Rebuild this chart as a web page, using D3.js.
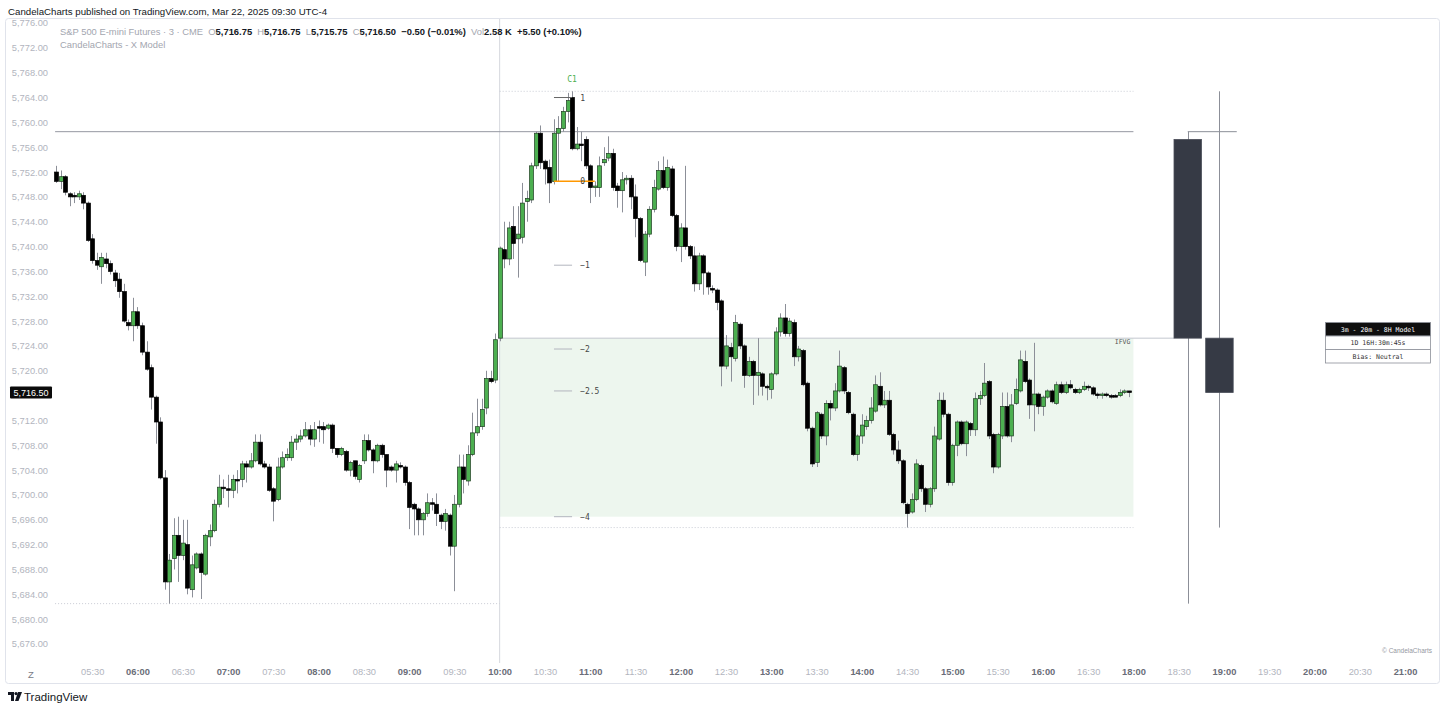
<!DOCTYPE html>
<html>
<head>
<meta charset="utf-8">
<script src="https://cdn.jsdelivr.net/npm/d3@7"></script>
<style>
  body { margin: 0; background: #fff; }
  text { font-family: "Liberation Sans", Arial, sans-serif; }
  .mono { font-family: "DejaVu Sans Mono", "Liberation Mono", monospace; }
  .legend { white-space: pre; }
</style>
</head>
<body>
<svg id="chart" width="1445" height="710"></svg>
<script>
// ES1! 3 minute candles, 05:06 -> 16:57
var opens = [
  5752, 5750.5, 5751.25, 5748.5, 5748.25, 5748, 5748.25, 5747, 5741.25, 5737.75,
  5736.75, 5738, 5737.25, 5735.75, 5734.75, 5732.75, 5727.75, 5727.25, 5729.5, 5727.25,
  5723, 5720.5, 5715.75, 5711.75, 5702.75, 5686, 5689.75, 5693.5, 5690.25, 5692,
  5684.75, 5688.25, 5690.5, 5687.25, 5693.25, 5694.25, 5698.5, 5701.25, 5701, 5700.75,
  5702.5, 5702.5, 5705, 5704.5, 5705.5, 5708.5, 5705, 5704.5, 5701, 5699.25,
  5704.5, 5706, 5706, 5708.5, 5709, 5709.5, 5710.5, 5709, 5711, 5711,
  5710.75, 5711.25, 5707.5, 5706.5, 5707, 5704, 5705.5, 5702.5, 5705.5, 5708.75,
  5707.25, 5705.5, 5708, 5706.5, 5704.5, 5704, 5704.75, 5704.5, 5702, 5698.5,
  5697.75, 5696, 5697, 5698.75, 5698.5, 5696.75, 5695.75, 5696.75, 5691.75, 5698.5,
  5704.5, 5702.25, 5706.5, 5710, 5711, 5714, 5718.75, 5718.5, 5725.25, 5739.5,
  5738, 5743.25, 5741.25, 5741.5, 5747.25, 5747.5, 5753, 5758.25, 5753.75, 5752.75,
  5750.5, 5758.25, 5759, 5761.75, 5764, 5755.75, 5756.5, 5757.25, 5753, 5749.5,
  5749.5, 5753.5, 5754.25, 5755, 5749.75, 5749, 5750.75, 5751, 5748, 5744.5,
  5737.5, 5742, 5746, 5749.25, 5752.25, 5749.5, 5752.5, 5745, 5740, 5743,
  5740, 5738.5, 5734, 5738.5, 5735.75, 5733.25, 5733, 5731.25, 5720.75, 5723.75,
  5722, 5727.5, 5724, 5719.25, 5721.5, 5719.25, 5719.5, 5717.5, 5717, 5719.5,
  5726.25, 5728.5, 5726, 5727.75, 5722.25, 5723.25, 5718, 5710.75, 5705.25, 5713,
  5709.5, 5714.75, 5714, 5716.75, 5720.5, 5716.5, 5713, 5706.5, 5709.5, 5711,
  5712, 5713.5, 5717.5, 5714.5, 5715.25, 5709.75, 5707.25, 5705.5, 5698.5, 5697.25,
  5699.25, 5704.75, 5701, 5698.5, 5701, 5709, 5715.25, 5713, 5702, 5708,
  5711.75, 5708.25, 5711.5, 5710.5, 5715.5, 5716, 5718.25, 5709.75, 5704.5, 5709.5,
  5714.25, 5709.5, 5714.75, 5716.75, 5721.5, 5718.5, 5714.5, 5716.25, 5714.25, 5715.75,
  5716.75, 5714.75, 5717.75, 5716.5, 5717.75, 5717, 5716.5, 5717, 5717.5, 5717.25,
  5716.25, 5716, 5716.25, 5716, 5716, 5716, 5716.5, 5716.75
];
var highs = [
  5753, 5752.25, 5751.5, 5748.75, 5748.75, 5749, 5748.75, 5747.25, 5742, 5739,
  5739, 5739, 5737.75, 5736.25, 5735.75, 5734, 5728.25, 5731.75, 5730.25, 5727.75,
  5724.75, 5721, 5716, 5712.5, 5704, 5690.5, 5696.25, 5696.5, 5696, 5696,
  5690.25, 5690.75, 5690.75, 5693.75, 5695.25, 5699.25, 5703.25, 5702.5, 5703.25, 5703.25,
  5704, 5705.5, 5705.5, 5706.75, 5709.75, 5709.75, 5705.5, 5705, 5701.25, 5706,
  5707, 5707.5, 5709.5, 5709.75, 5710.5, 5711.75, 5711.25, 5711.75, 5712, 5711.75,
  5711.5, 5711.5, 5707.5, 5707.75, 5707.25, 5705.5, 5705.5, 5705, 5709.75, 5709.75,
  5707.5, 5708.25, 5708.25, 5706.5, 5704.75, 5705.5, 5705.25, 5704.75, 5702.25, 5698.75,
  5698, 5697.25, 5700.25, 5699.5, 5700.25, 5697, 5697.75, 5697, 5700, 5706.5,
  5706.5, 5708, 5713.25, 5715.5, 5715.5, 5720, 5720, 5726, 5740, 5744,
  5744, 5746.5, 5746.5, 5750.25, 5749, 5753.5, 5758.5, 5759.5, 5754, 5754,
  5760.5, 5761, 5762.5, 5764.75, 5765, 5759.25, 5758.5, 5757.75, 5753.25, 5750.5,
  5754.5, 5756, 5757.75, 5755.75, 5750.25, 5752, 5751.5, 5751.5, 5750, 5744.75,
  5742.5, 5746.5, 5750.75, 5753.75, 5754.5, 5754, 5753, 5745.25, 5743.75, 5753,
  5740.25, 5740, 5739, 5738.75, 5736, 5733.75, 5733.25, 5731.5, 5725.75, 5724.5,
  5729, 5727.75, 5724.25, 5722.25, 5721.75, 5725.25, 5719.75, 5717.75, 5719.75, 5727,
  5729.25, 5730.75, 5728.5, 5728.25, 5724, 5723.5, 5718.25, 5711, 5713.5, 5713.25,
  5715.25, 5715.25, 5718, 5723.25, 5720.75, 5716.75, 5713.25, 5709.75, 5713, 5712.75,
  5715.75, 5719.25, 5719.75, 5716.75, 5716.75, 5710, 5708.75, 5705.75, 5698.75, 5700.25,
  5705.75, 5705, 5701.25, 5701.25, 5711, 5716.5, 5716.5, 5713.25, 5708.25, 5712,
  5712, 5712, 5711.75, 5716.5, 5716.75, 5721.25, 5718.5, 5710, 5710, 5716.5,
  5716.5, 5716.25, 5718.75, 5723.25, 5723.25, 5718.75, 5724.5, 5716.5, 5716, 5717,
  5717, 5718.25, 5718.25, 5718.25, 5718.5, 5717.25, 5717.25, 5718.25, 5717.75, 5717.5,
  5716.5, 5716.5, 5716.5, 5716.25, 5716.25, 5717, 5717, 5716.75
];
var lows = [
  5750.25, 5749.25, 5748.25, 5746.5, 5747, 5747.5, 5746, 5740.75, 5737.25, 5736.25,
  5734, 5736.5, 5735.5, 5733.5, 5731.75, 5727.75, 5726.5, 5724.75, 5726.75, 5722.5,
  5720, 5713.75, 5708.25, 5702.5, 5684.75, 5682.5, 5688, 5686, 5689.5, 5684,
  5683.5, 5688, 5683.25, 5687, 5691.75, 5694, 5698, 5699.5, 5698, 5699.5,
  5700.25, 5701.25, 5702, 5704.25, 5705.25, 5704.75, 5704.25, 5700.5, 5695.75, 5699,
  5704.25, 5705.5, 5705.5, 5707.25, 5708.5, 5709.25, 5708, 5707.75, 5708.5, 5708.25,
  5710.5, 5706.75, 5706, 5706.25, 5703.75, 5703, 5702.5, 5702, 5705, 5707,
  5703.5, 5705.25, 5706, 5701.25, 5703.75, 5702, 5704.25, 5701.5, 5694.5, 5693.5,
  5693.5, 5693.5, 5696.5, 5697.5, 5695, 5694.5, 5694.25, 5690.25, 5684.5, 5698,
  5700.25, 5701.5, 5706.25, 5709.5, 5710.5, 5713, 5718, 5718, 5724.75, 5736.5,
  5737, 5738, 5735, 5740.5, 5744, 5747, 5752.5, 5752.5, 5750, 5747,
  5750, 5750.5, 5758.5, 5760, 5755.5, 5755.5, 5753.75, 5752.5, 5747, 5748,
  5748, 5753, 5753.75, 5749, 5746.25, 5745.5, 5750, 5746, 5741.5, 5737.5,
  5735.25, 5741.5, 5745.5, 5749, 5749.25, 5749, 5744.75, 5739.25, 5737.5, 5739.5,
  5738, 5732.75, 5733, 5732.25, 5732.25, 5732.5, 5729.75, 5717.5, 5720.25, 5718.25,
  5721.5, 5723.5, 5717.25, 5719, 5714.5, 5716, 5716, 5715.25, 5715.5, 5719.25,
  5725.5, 5725.5, 5725.5, 5720.75, 5721.5, 5717.5, 5710.25, 5704.5, 5704.5, 5709,
  5708, 5712, 5713.5, 5716.5, 5716.25, 5713, 5706.25, 5705.5, 5708.25, 5710.5,
  5711.5, 5713.25, 5714.25, 5714, 5709.5, 5706.5, 5705, 5698.5, 5694.75, 5697,
  5699, 5700.5, 5697.25, 5698, 5700.5, 5708.75, 5712.5, 5701.5, 5701.5, 5706.25,
  5708, 5706.25, 5709.5, 5709.5, 5714.5, 5715.75, 5709, 5703.5, 5704.25, 5709,
  5709.25, 5708.5, 5714.5, 5716.5, 5718, 5712.25, 5710.25, 5713, 5712.75, 5715.5,
  5714.75, 5714.5, 5716.25, 5716.25, 5717, 5716.25, 5716.25, 5716.75, 5716.75, 5716,
  5715.5, 5715.5, 5715.75, 5715.5, 5715.75, 5715.75, 5716.25, 5715.75
];
var closes = [
  5750.5, 5751.25, 5748.75, 5748, 5748, 5748.5, 5747, 5741, 5737.75, 5737,
  5738.25, 5737.25, 5736, 5734.5, 5732.75, 5728, 5727.25, 5729.5, 5727.25, 5723,
  5720.25, 5715.75, 5711.75, 5702.75, 5686, 5689.5, 5693.5, 5690.25, 5692.25, 5685,
  5688.75, 5690.5, 5687.5, 5693.5, 5694.25, 5698.5, 5701.25, 5701, 5700.75, 5702.5,
  5702.25, 5705, 5704.5, 5705.5, 5708.5, 5705, 5704.5, 5700.75, 5699, 5704.5,
  5706, 5706.5, 5708.5, 5709, 5709.5, 5710.5, 5709, 5710.5, 5710.75, 5710.5,
  5711.25, 5707.5, 5706.5, 5707.5, 5704, 5705.25, 5703, 5704.75, 5708.75, 5707.25,
  5705.5, 5708, 5706.5, 5704, 5704, 5705, 5704.5, 5702, 5698, 5697.75,
  5696, 5697, 5698.75, 5698.5, 5697, 5695.75, 5697, 5691.75, 5698.5, 5704.5,
  5702.5, 5706.5, 5710, 5711, 5713.75, 5718.75, 5718.25, 5725, 5739.75, 5738,
  5743, 5740.5, 5742, 5747, 5747.75, 5753, 5758.25, 5753.5, 5752.5, 5750.25,
  5758.25, 5759, 5761.75, 5763.5, 5755.75, 5756.5, 5756.25, 5753, 5749.5, 5749.75,
  5753, 5754, 5755, 5749.5, 5749, 5750.75, 5751, 5748, 5744.5, 5737.75,
  5742, 5746, 5749.5, 5752.25, 5749.5, 5752.75, 5745, 5740, 5743, 5740,
  5738.5, 5734, 5738.5, 5735.75, 5733.5, 5733, 5731, 5720.75, 5724, 5722.25,
  5727.75, 5724, 5719.25, 5721.5, 5719.25, 5719.75, 5717.5, 5717.25, 5719.5, 5726.25,
  5728.5, 5726, 5728, 5722.25, 5723.5, 5717.75, 5710.75, 5705, 5713.25, 5709.5,
  5714.75, 5714, 5716.75, 5720.75, 5716.75, 5713.25, 5706.5, 5709.5, 5711.25, 5712,
  5714, 5717.75, 5714.5, 5715.25, 5709.75, 5707.25, 5705.5, 5698.75, 5697, 5699.25,
  5705, 5701, 5698.5, 5701, 5709.5, 5715.25, 5713, 5702, 5708, 5711.75,
  5708.25, 5711.75, 5710.5, 5715.5, 5716, 5718, 5709.5, 5704.5, 5709.75, 5714.25,
  5709.5, 5714.5, 5717, 5721.75, 5718.25, 5714.5, 5716.25, 5714.25, 5715.75, 5716.75,
  5715, 5717.75, 5716.5, 5717.75, 5717.25, 5716.5, 5717, 5717.5, 5717.25, 5716.25,
  5716, 5716.25, 5716, 5715.75, 5715.75, 5716.5, 5716.75, 5716.5
];

// 8H candles drawn to the right of the session
var htfIdx = [250, 257];
var htfOpen = [5757.25, 5725.25];
var htfHigh = [5758.5, 5765];
var htfLow = [5682.5, 5694.75];
var htfClose = [5725.25, 5716.5];

// fib projection off the C1 swing
var fibLabels = ["1", "0", "\u22121", "\u22122", "\u22122.5", "\u22124"];
var fibPrices = [5764, 5750.5, 5737, 5723.5, 5716.75, 5696.5];

var priceTicks = d3.range(5676, 5777, 4);
var timeLabels = ["05:30", "06:00", "06:30", "07:00", "07:30", "08:00", "08:30", "09:00", "09:30",
  "10:00", "10:30", "11:00", "11:30", "12:00", "12:30", "13:00", "13:30", "14:00", "14:30",
  "15:00", "15:30", "16:00", "16:30", "18:00", "18:30", "19:00", "19:30", "20:00", "20:30", "21:00"];

var tableRows = ["3m - 20m - 8H Model", "1D 16H:30m:45s", "Bias: Neutral"];

var svg = d3.select("#chart");

var x = d3.scaleLinear().domain([0, 237]).range([56, 56 + 237 * 4.527]);
var y = d3.scaleLinear().domain([5676, 5776]).range([644, 23]);

// bar index of a clock label (3m bars from 05:06, the 17:00-18:00 break is skipped)
function timeToIdx(t) {
  var p = t.split(":"), m = +p[0] * 60 + +p[1];
  var idx = (m - (5 * 60 + 6)) / 3;
  if (+p[0] >= 18) idx -= 20;
  return idx;
}

// frame
svg.append("rect")
  .attr("x", 5.5).attr("y", 18.5).attr("width", 1434).attr("height", 665)
  .attr("rx", 3)
  .attr("fill", "none").attr("stroke", "#e0e3eb");

svg.append("text")
  .attr("x", 8).attr("y", 15)
  .attr("font-size", 9.7).attr("fill", "#131722")
  .text("CandelaCharts published on TradingView.com, Mar 22, 2025 09:30 UTC-4");

// IFVG zone
var zoneTop = 5725.25, zoneBot = 5696.5;
svg.append("rect")
  .attr("x", x(98)).attr("y", y(zoneTop))
  .attr("width", x(238) - x(98)).attr("height", y(zoneBot) - y(zoneTop))
  .attr("fill", "#edf6ee");
svg.append("line")
  .attr("x1", x(98)).attr("x2", x(247)).attr("y1", y(zoneTop)).attr("y2", y(zoneTop))
  .attr("stroke", "#c3c7cf").attr("stroke-width", 1);
svg.append("text")
  .attr("class", "mono")
  .attr("x", x(238) - 3).attr("y", y(zoneTop) + 6)
  .attr("text-anchor", "end").attr("font-size", 6.5).attr("fill", "#555")
  .text("IFVG");

// session open line
svg.append("line")
  .attr("x1", x(98)).attr("x2", x(98)).attr("y1", 19).attr("y2", 663)
  .attr("stroke", "#d6d8de");

// previous high
svg.append("line")
  .attr("x1", x(-0.2)).attr("x2", x(238)).attr("y1", y(5758.5)).attr("y2", y(5758.5))
  .attr("stroke", "#9598a1");

// dotted levels
var dotted = [[5765, 98, 238], [5694.75, 98, 238], [5682.5, -0.2, 98]];
svg.selectAll(".dot-level")
  .data(dotted)
  .enter().append("line")
  .attr("class", "dot-level")
  .attr("x1", function (d) { return x(d[1]); })
  .attr("x2", function (d) { return x(d[2]); })
  .attr("y1", function (d) { return y(d[0]); })
  .attr("y2", function (d) { return y(d[0]); })
  .attr("stroke", "#c9ccd4").attr("stroke-dasharray", "1,2");

// candles
var bars = opens.map(function (o, i) {
  return {i: i, o: o, h: highs[i], l: lows[i], c: closes[i]};
});

svg.append("g").selectAll("line")
  .data(bars)
  .enter().append("line")
  .attr("x1", function (d) { return Math.round(x(d.i)) + 0.5; })
  .attr("x2", function (d) { return Math.round(x(d.i)) + 0.5; })
  .attr("y1", function (d) { return y(d.h); })
  .attr("y2", function (d) { return y(d.l); })
  .attr("stroke", "#8c8f98").attr("stroke-width", 1);

svg.append("g").selectAll("rect")
  .data(bars)
  .enter().append("rect")
  .attr("x", function (d) { return Math.round(x(d.i)) - 1.5; })
  .attr("width", 4)
  .attr("y", function (d) { return y(Math.max(d.o, d.c)); })
  .attr("height", function (d) { return Math.max(1.2, Math.abs(y(d.o) - y(d.c))); })
  .attr("fill", function (d) { return d.c >= d.o ? "#4caf50" : "#000"; })
  .attr("stroke", function (d) { return d.c >= d.o ? "#1f3d21" : "#000"; })
  .attr("stroke-width", 0.7);

// fib levels
svg.selectAll(".fib")
  .data(fibPrices)
  .enter().append("line")
  .attr("class", "fib")
  .attr("x1", x(110))
  .attr("x2", function (d, i) { return i == 1 ? x(119) : x(114); })
  .attr("y1", function (d) { return y(d); })
  .attr("y2", function (d) { return y(d); })
  .attr("stroke", function (d, i) { return i == 1 ? "#ff9800" : (i == 0 ? "#666" : "#b2b5be"); })
  .attr("stroke-width", function (d, i) { return i == 1 ? 1.5 : 1; });

svg.selectAll(".fib-label")
  .data(fibPrices)
  .enter().append("text")
  .attr("class", "mono fib-label")
  .attr("x", x(116) - 1)
  .attr("y", function (d) { return y(d) + 3; })
  .attr("font-size", 8).attr("fill", "#444")
  .text(function (d, i) { return fibLabels[i]; });

svg.append("text")
  .attr("class", "mono")
  .attr("x", x(114)).attr("y", 82)
  .attr("text-anchor", "middle").attr("font-size", 8).attr("fill", "#4caf50")
  .text("C1");

// 8H candles
svg.append("line")
  .attr("x1", x(htfIdx[0])).attr("x2", x(htfIdx[0]) + 49)
  .attr("y1", y(htfHigh[0])).attr("y2", y(htfHigh[0]))
  .attr("stroke", "#8c8f98");
svg.selectAll(".htf-wick")
  .data(htfIdx)
  .enter().append("line")
  .attr("class", "htf-wick")
  .attr("x1", function (d) { return Math.round(x(d)) + 0.5; })
  .attr("x2", function (d) { return Math.round(x(d)) + 0.5; })
  .attr("y1", function (d, i) { return y(htfHigh[i]); })
  .attr("y2", function (d, i) { return y(htfLow[i]); })
  .attr("stroke", "#8c8f98");
svg.selectAll(".htf-body")
  .data(htfIdx)
  .enter().append("rect")
  .attr("class", "htf-body")
  .attr("x", function (d) { return x(d) - 13.75; })
  .attr("width", 27.5)
  .attr("y", function (d, i) { return y(Math.max(htfOpen[i], htfClose[i])); })
  .attr("height", function (d, i) { return Math.abs(y(htfOpen[i]) - y(htfClose[i])); })
  .attr("fill", "#363a45").attr("stroke", "#4a4e59").attr("stroke-width", 0.8);

// model table
var tb = svg.append("g").attr("transform", "translate(1325.5,322.5)");
tb.selectAll("rect")
  .data(tableRows)
  .enter().append("rect")
  .attr("x", 0).attr("y", function (d, i) { return i * 13.5; })
  .attr("width", 105).attr("height", 13.5)
  .attr("fill", function (d, i) { return i == 0 ? "#0f0f0f" : "#fff"; })
  .attr("stroke", "#8c8f98").attr("stroke-width", 0.8);
tb.selectAll("text")
  .data(tableRows)
  .enter().append("text")
  .attr("class", "mono")
  .attr("x", 52.5).attr("y", function (d, i) { return i * 13.5 + 9.3; })
  .attr("text-anchor", "middle").attr("font-size", 6.5)
  .attr("fill", function (d, i) { return i == 0 ? "#fff" : "#333"; })
  .text(function (d) { return d; });

// last price, its tag hides the grid label underneath
var last = closes[closes.length - 1];

// price axis
var yAxis = d3.axisLeft(y)
  .tickValues(priceTicks.filter(function (d) { return Math.abs(y(d) - y(last)) > 8; }))
  .tickSize(0).tickPadding(0)
  .tickFormat(d3.format(",.2f"));
var yg = svg.append("g").attr("transform", "translate(48,0)").call(yAxis);
yg.select(".domain").remove();
yg.selectAll("text").attr("font-size", 9.3).attr("fill", "#b2b5be")
  .attr("font-family", "Liberation Sans, Arial, sans-serif");

svg.append("rect")
  .attr("x", 10).attr("y", y(last) - 6).attr("width", 42).attr("height", 12)
  .attr("rx", 1).attr("fill", "#0b0b0b");
svg.append("text")
  .attr("x", 31).attr("y", y(last) + 3.3)
  .attr("text-anchor", "middle").attr("font-size", 9).attr("fill", "#fff")
  .text(d3.format(",.2f")(last));

// time axis
var xAxis = d3.axisBottom(x).tickValues(timeLabels.map(timeToIdx)).tickSize(0).tickPadding(0)
  .tickFormat(function (d, i) { return timeLabels[i]; });
var xg = svg.append("g").attr("transform", "translate(0,668)").call(xAxis);
xg.select(".domain").remove();
xg.selectAll("text")
  .attr("font-size", 9.3)
  .attr("font-family", "Liberation Sans, Arial, sans-serif")
  .attr("fill", function (d, i) { return timeLabels[i].slice(3) == "00" ? "#6a6d78" : "#b2b5be"; })
  .attr("font-weight", function (d, i) { return timeLabels[i].slice(3) == "00" ? "bold" : "normal"; });

svg.append("text")
  .attr("x", 31).attr("y", 677.5)
  .attr("text-anchor", "middle").attr("font-size", 9.5).attr("fill", "#787b86")
  .text("Z");

// legend
var lg = svg.append("text").attr("class", "legend")
  .attr("x", 60).attr("y", 35).attr("font-size", 9.4);
var legendParts = [
  ["S&P 500 E-mini Futures \u00b7 3 \u00b7 CME  ", "#a3a6af", "normal"],
  ["O", "#a3a6af", "normal"], ["5,716.75  ", "#131722", "bold"],
  ["H", "#a3a6af", "normal"], ["5,716.75  ", "#131722", "bold"],
  ["L", "#a3a6af", "normal"], ["5,715.75  ", "#131722", "bold"],
  ["C", "#a3a6af", "normal"], ["5,716.50  ", "#131722", "bold"],
  ["\u22120.50 (\u22120.01%)  ", "#131722", "bold"],
  ["Vol", "#a3a6af", "normal"], ["2.58 K  ", "#131722", "bold"],
  ["+5.50 (+0.10%)", "#131722", "bold"]
];
lg.selectAll("tspan")
  .data(legendParts)
  .enter().append("tspan")
  .attr("fill", function (d) { return d[1]; })
  .attr("font-weight", function (d) { return d[2]; })
  .text(function (d) { return d[0]; });

svg.append("text")
  .attr("x", 60).attr("y", 48).attr("font-size", 9.4).attr("fill", "#a3a6af")
  .text("CandelaCharts - X Model");

svg.append("text")
  .attr("x", 1432).attr("y", 653)
  .attr("text-anchor", "end").attr("font-size", 6.5).attr("fill", "#9598a1")
  .text("\u00a9 CandelaCharts");

// TradingView mark
var logo = svg.append("g").attr("transform", "translate(8,692)");
logo.append("path").attr("d", "M0,0 H6 V9 H3 V3 H0 Z").attr("fill", "#131722");
logo.append("circle").attr("cx", 8).attr("cy", 1.6).attr("r", 1.6).attr("fill", "#131722");
logo.append("path").attr("d", "M10,0 H14 L10.5,9 H7 Z").attr("fill", "#131722");
svg.append("text")
  .attr("x", 24).attr("y", 701)
  .attr("font-size", 11.5).attr("fill", "#131722")
  .text("TradingView");
</script>
</body>
</html>
